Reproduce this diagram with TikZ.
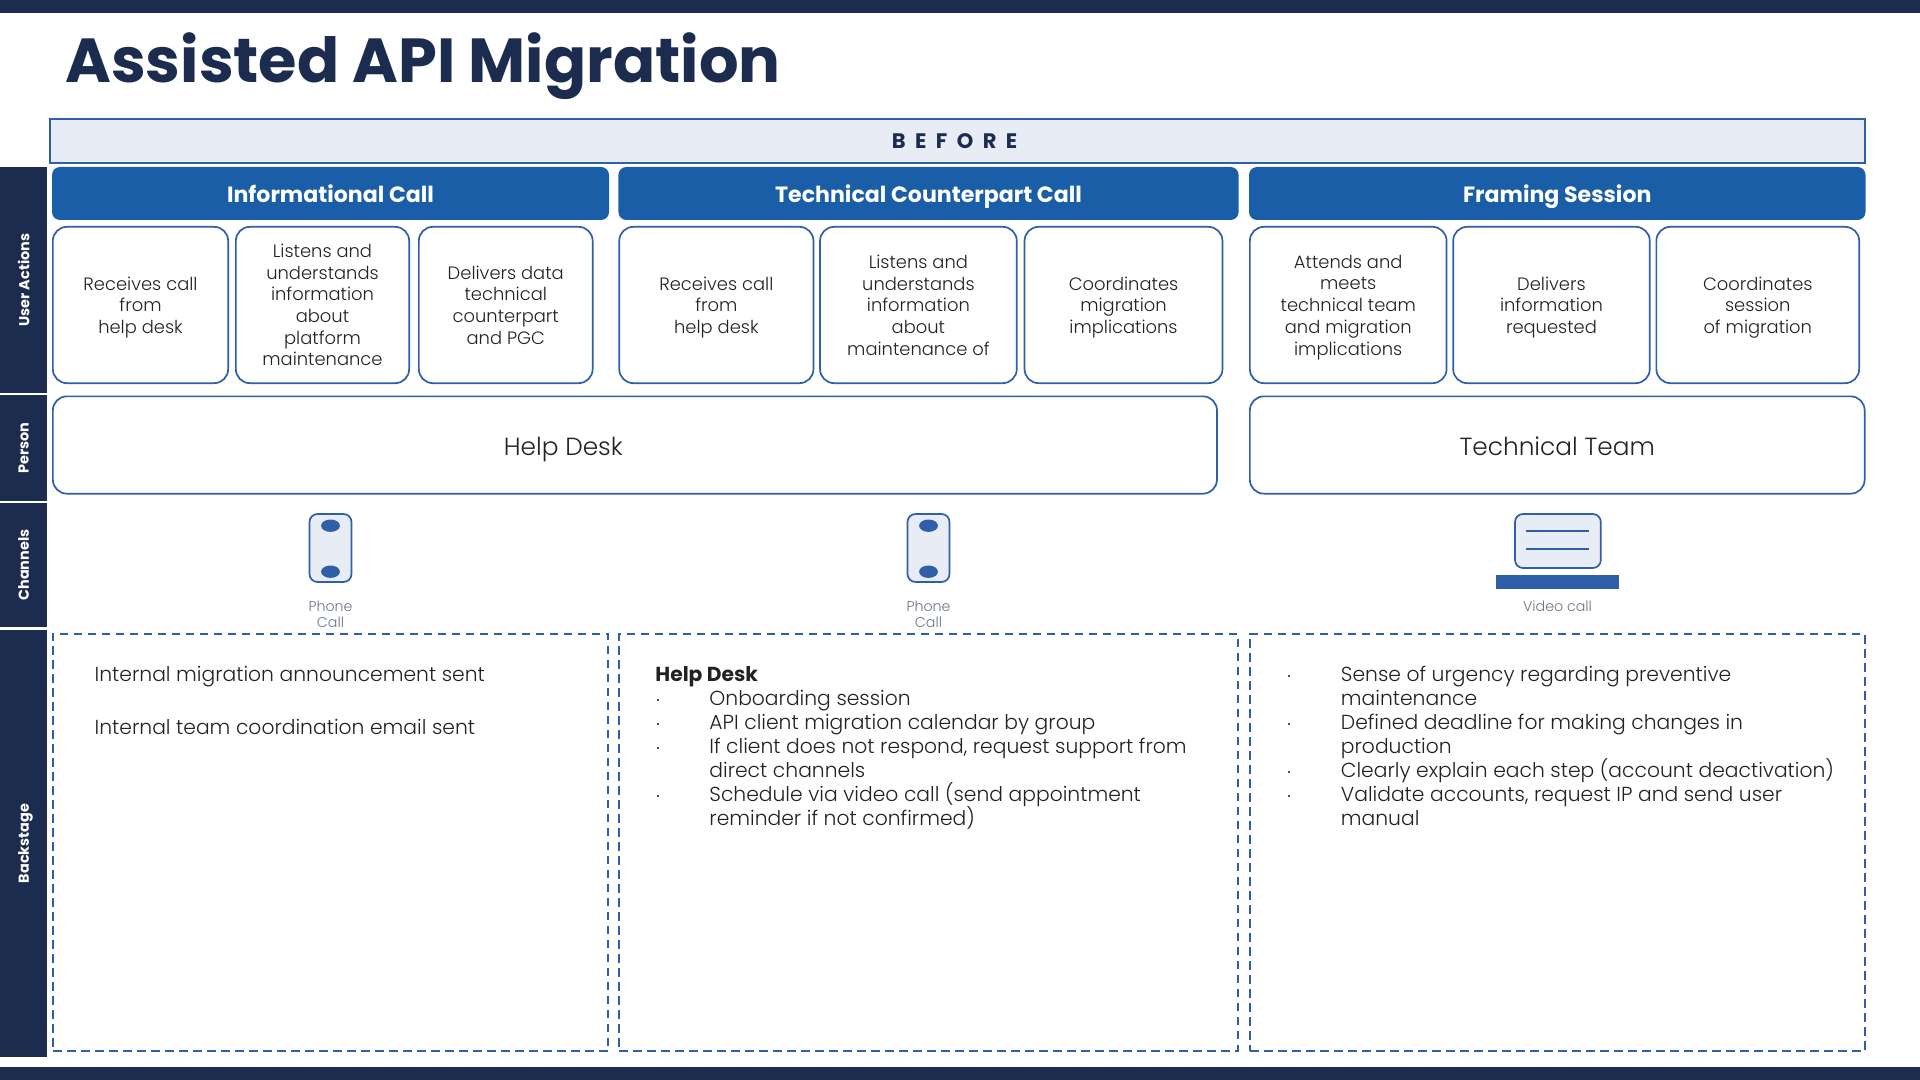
\documentclass[tikz,border=0pt]{standalone}
\usepackage{fontspec}
\setmainfont{Poppins}[UprightFont=*-Light,BoldFont=*-Bold]
\usetikzlibrary{calc,positioning,shapes.geometric}

\definecolor{navy}{HTML}{1B2C4F}
\definecolor{headblue}{HTML}{1A5EA8}
\definecolor{lineblue}{HTML}{2E5FA8}
\definecolor{paleblue}{HTML}{E8ECF5}
\definecolor{bodytext}{HTML}{222222}
\definecolor{greytext}{HTML}{6B7686}

\tikzset{
  railbox/.style={rectangle,fill=navy,text=white,rotate=90,inner sep=0pt,text depth=0pt,
    font=\fontsize{7.2}{8}\selectfont\bfseries},
  headbox/.style={rectangle,rounded corners=4pt,fill=headblue,text=white,inner sep=0pt,text depth=0pt,
    font=\fontsize{11.05}{13}\selectfont\bfseries},
  cardbox/.style={rectangle,rounded corners=7pt,draw=lineblue,line width=.85pt,fill=white,text depth=0pt,
    inner sep=0pt,align=center,text=bodytext,font=\fontsize{8.95}{10.85}\selectfont},
  personbox/.style={rectangle,rounded corners=7pt,draw=lineblue,line width=.85pt,inner sep=0pt},
  personlabel/.style={text=bodytext,inner sep=0pt,text depth=0pt,font=\fontsize{12.4}{14}\selectfont},
  stagebox/.style={rectangle,draw=lineblue,line width=1pt,dash pattern=on 4.3pt off 2.7pt,inner sep=0pt},
  stagetext/.style={anchor=base west,align=left,text=bodytext,inner sep=0pt,
    font={\fontsize{10.15}{12.04}\selectfont\lineskiplimit -6pt\relax}},
  chanlabel/.style={align=center,text=greytext,inner sep=0pt,font=\fontsize{7.1}{8.2}\selectfont},
  chanshape/.style={draw=lineblue,line width=.85pt,fill=paleblue,rounded corners=4pt},
  chandot/.style={ellipse,fill=lineblue,inner sep=0pt,minimum width=9.4pt,minimum height=6.2pt},
}

\begin{document}
\begin{tikzpicture}[x=0.5pt,y=-0.5pt]

  \useasboundingbox (0,0) rectangle (1920,1080);

  \fill[navy] (0,0) rectangle (1920,13);
  \fill[navy] (0,1067) rectangle (1920,1080);

  \node [anchor=base west,inner sep=0pt,text=navy,font=\fontsize{31.1}{36}\selectfont\bfseries] at(65,83) (title) {Assisted API Migration};

  \node [rectangle,draw=lineblue,line width=.85pt,fill=paleblue,inner sep=0pt,text=navy,text depth=0pt,minimum width=907.2pt,minimum height=22.2pt,font=\fontsize{10.5}{12}\selectfont\bfseries\addfontfeatures{LetterSpace=45}] at(957.5,141) (before) {BEFORE\hspace*{3pt}};

  % left rail
  \foreach \name/\ya/\yb/\txt in {actions/167/393/User Actions, person/395/501/Person, channels/503/627/Channels, backstage/630/1057/Backstage}{
    \node [railbox,minimum width={(\yb-\ya)*0.5pt},minimum height=23.5pt] at({23.5},{(\ya+\yb)/2}) (rail_\name) {\txt};
  }

  % column heads
  \foreach \name/\xa/\xb/\txt in {info/52/609/Informational Call, tech/618.4/1238.6/Technical Counterpart Call, framing/1249/1865.5/Framing Session}{
    \node [headbox,minimum width={(\xb-\xa)*0.5pt},minimum height=26.5pt] at({(\xa+\xb)/2},193.5) (head_\name) {\txt};
  }

  % user actions
  \foreach \name/\xa/\xb/\txt in {
    a/52/229/{Receives call\\from\\help desk},
    b/235/410/{Listens and\\understands\\information\\about\\platform\\maintenance},
    c/418/593.5/{Delivers data\\technical\\counterpart\\and PGC},
    d/618.4/814.3/{Receives call\\from\\help desk},
    e/819.2/1017.6/{Listens and\\understands\\information\\about\\maintenance of},
    f/1023.7/1223.3/{Coordinates\\migration\\implications},
    g/1249/1447.4/{Attends and\\meets\\technical team\\and migration\\implications},
    h/1452.3/1650.6/{Delivers\\information\\requested},
    i/1655.5/1860/{Coordinates\\session\\of migration}}{
    \node [cardbox,minimum width={(\xb-\xa)*0.5pt-0.85pt},minimum height=78.15pt] at({(\xa+\xb)/2},305) (card_\name) {\txt};
  }

  % person
  \node [personbox,minimum width=582.05pt,minimum height=48.65pt] at(634.9,445) (person_help) {};
  \node [personlabel] at(563.3,446) (person_help_label) {Help Desk};
  \node [personbox,minimum width=307.4pt,minimum height=48.65pt] at(1557.25,445) (person_tech) {};
  \node [personlabel] at(1557.25,446) (person_tech_label) {Technical Team};

  % channels
  \foreach \n/\x in {1/330.5, 2/928.5}{
    \draw [chanshape] (\x-21,514) rectangle (\x+21,582);
    \node [chandot] at(\x,525.7) (phone_top_\n) {};
    \node [chandot] at(\x,571.7) (phone_bot_\n) {};
    \node [chanlabel] at(\x,614.5) (phone_label_\n) {Phone\\Call};
  }
  \draw [chanshape] (1515,514) rectangle (1600.8,568);
  \draw [lineblue,line width=.85pt] (1526,531) -- (1589,531);
  \draw [lineblue,line width=.85pt] (1526,549) -- (1589,549);
  \fill [lineblue] (1496,575) rectangle (1619,589);
  \node [chanlabel] at(1557.5,606) (video_label) {Video call};

  % backstage
  \foreach \name/\xa/\xb in {one/52/609, two/618.4/1238.6, three/1249/1865.5}{
    \node [stagebox,minimum width={(\xb-\xa)*0.5pt-1pt},minimum height=208.7pt] at({(\xa+\xb)/2},842.4) (stage_\name) {};
  }

  \node [stagetext] at(94.3,681) (stage_one_a) {Internal migration announcement sent};
  \node [stagetext] at(94.3,734) (stage_one_b) {Internal team coordination email sent};

  \node [stagetext,font=\fontsize{10.15}{12.04}\selectfont\bfseries] at(655,681) (stage_two_head) {Help Desk};
  \node [stagetext] at(709,825.5) (stage_two_text) {Onboarding session\\API client migration calendar by group\\If client does not respond, request support from\\direct channels\\Schedule via video call (send appointment\\reminder if not confirmed)};
  \foreach \n/\y in {1/705, 2/729, 3/753, 4/801}{
    \node [stagetext] at(655,\y) (stage_two_dot_\n) {$\cdot$};
  }

  \node [stagetext] at(1340.5,825.5) (stage_three_text) {Sense of urgency regarding preventive\\maintenance\\Defined deadline for making changes in\\production\\Clearly explain each step (account deactivation)\\Validate accounts, request IP and send user\\manual};
  \foreach \n/\y in {1/681, 2/729, 3/777, 4/801}{
    \node [stagetext] at(1286,\y) (stage_three_dot_\n) {$\cdot$};
  }

\end{tikzpicture}
\end{document}
